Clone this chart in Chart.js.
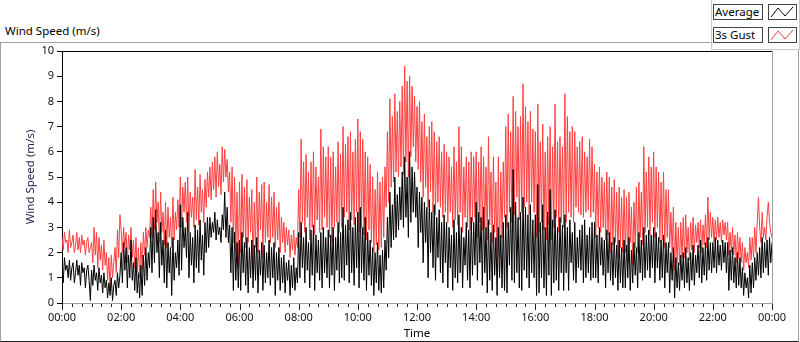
<!DOCTYPE html>
<html>
<head>
<meta charset="utf-8">
<script src="https://cdn.jsdelivr.net/npm/chart.js@4/dist/chart.umd.min.js"></script>
<style>
  body { margin: 0; background: #fff; }
  #wrap { position: relative; width: 800px; height: 342px; overflow: hidden; font-family: "Noto Sans", sans-serif; }
  #frame { position: absolute; left: 0; top: 42px; width: 797px; height: 298px;
           border: 1px solid #a0a0a0; border-bottom-color: #202020; }
  #title { position: absolute; left: 5px; top: 24px; font-size: 11.5px; line-height: 14px; color: #000; }
  #chart { position: absolute; left: 0; top: 0; }
  #legend { position: absolute; left: 711px; top: -1px; width: 87px; height: 49px; background: #fff;
            border: 1px solid #c8c8c8; }
  .lbl { position: absolute; left: 1px; width: 47px; height: 14px; border: 1px solid #444; background: #fff;
         font-size: 11.5px; line-height: 14px; padding-left: 1px; color: #000; }
  .ico { position: absolute; left: 56px; width: 27px; height: 14px; border: 1px solid #444; background: #fff; }
  .ico svg { display: block; }
</style>
</head>
<body>
<div id="wrap">
  <div id="frame"></div>
  <div id="title">Wind Speed (m/s)</div>
  <canvas id="chart" width="800" height="342"></canvas>
  <div id="legend">
    <div class="lbl" style="top:4px">Average</div>
    <div class="ico" style="top:4px"><svg width="27" height="14"><polyline points="2,12 9,3 16,11 24,2" fill="none" stroke="#000" stroke-width="1"/></svg></div>
    <div class="lbl" style="top:27px">3s Gust</div>
    <div class="ico" style="top:27px"><svg width="27" height="14"><polyline points="2,12 9,3 16,11 24,2" fill="none" stroke="#ff3f3f" stroke-width="1"/></svg></div>
  </div>
</div>
<script>
// samples every 2.5 minutes, 00:00 .. 24:00 (24 per hour + final point)
const sampleStepMin = 2.5;

const avgSpeed = [
  1.6, 0.8, 1.8, 1.3, 1.5, 1.0, 1.7, 0.9, 1.4, 1.6, 0.8, 1.2, 1.7, 1.1, 1.5, 0.7, 1.6, 1.2, 1.4, 0.6, 1.3, 1.5, 0.9, 0.1, // 00h
  1.3, 0.7, 1.5, 0.9, 1.2, 0.5, 1.4, 0.8, 1.1, 0.4, 1.2, 0.6, 0.9, 0.2, 0.8, 0.3, 1.0, 0.1, 0.7, 0.9, 0.3, 1.2, 0.6, 1.1, // 01h
  2.0, 0.8, 2.4, 1.3, 2.2, 0.6, 1.9, 1.0, 2.5, 0.9, 1.6, 0.5, 1.8, 0.4, 1.2, 0.2, 1.5, 0.3, 1.9, 0.7, 2.2, 0.9, 2.0, 1.4, // 02h
  3.0, 1.2, 3.4, 1.6, 3.7, 2.0, 2.8, 1.0, 3.2, 1.5, 2.5, 0.8, 2.9, 0.6, 2.4, 1.2, 2.2, 0.3, 2.6, 0.9, 2.0, 1.4, 2.5, 1.1, // 03h
  3.9, 1.3, 3.4, 2.2, 3.0, 1.8, 3.6, 1.0, 2.8, 1.5, 2.6, 0.8, 3.1, 1.4, 2.9, 1.2, 3.3, 1.7, 2.7, 1.1, 3.2, 2.0, 3.4, 2.2, // 04h
  3.4, 2.6, 3.2, 2.8, 3.6, 2.5, 3.3, 2.7, 3.0, 2.4, 3.5, 2.9, 4.4, 2.6, 3.8, 2.4, 3.1, 1.2, 3.0, 0.5, 2.8, 0.9, 2.4, 0.6, // 05h
  2.5, 0.5, 2.8, 1.2, 2.4, 0.7, 2.6, 0.4, 2.2, 1.0, 2.5, 0.6, 2.3, 0.9, 2.6, 0.4, 2.1, 1.1, 2.4, 0.5, 2.3, 0.8, 2.0, 1.0, // 06h
  2.5, 0.7, 2.2, 1.0, 2.4, 0.3, 2.0, 0.9, 2.2, 0.5, 1.8, 0.8, 1.9, 0.4, 1.6, 0.9, 1.7, 0.3, 1.5, 0.6, 1.8, 0.5, 1.4, 0.8, // 07h
  2.8, 1.0, 3.2, 1.4, 2.6, 0.8, 3.0, 1.3, 2.4, 0.6, 2.9, 1.1, 3.1, 0.5, 2.7, 1.2, 2.5, 0.9, 2.8, 0.6, 3.0, 1.2, 2.6, 1.0, // 08h
  2.9, 0.6, 2.7, 1.1, 3.0, 0.5, 2.6, 1.3, 3.2, 0.8, 2.8, 1.0, 3.8, 0.9, 3.1, 1.5, 3.3, 0.8, 3.6, 1.2, 3.0, 0.7, 3.4, 1.4, // 09h
  3.6, 0.6, 3.8, 1.2, 3.0, 0.9, 3.4, 0.5, 2.8, 1.1, 2.5, 0.7, 2.2, 0.3, 2.0, 0.8, 2.4, 0.5, 1.9, 0.4, 2.1, 0.6, 2.5, 1.3, // 10h
  3.4, 1.8, 4.4, 2.2, 3.9, 2.5, 5.0, 2.6, 4.3, 2.9, 4.6, 3.3, 5.2, 3.0, 5.8, 3.4, 5.0, 2.6, 6.0, 3.2, 5.4, 3.6, 5.2, 3.4, // 11h
  4.6, 2.2, 4.4, 2.8, 4.2, 1.6, 4.0, 2.4, 3.8, 1.0, 4.1, 2.0, 3.6, 1.4, 3.9, 0.9, 3.4, 1.8, 3.7, 1.2, 3.2, 0.8, 3.5, 1.6, // 12h
  3.2, 0.6, 3.0, 1.4, 2.7, 0.5, 3.3, 1.0, 2.8, 0.8, 3.5, 1.2, 3.0, 0.6, 2.6, 1.5, 3.2, 0.9, 2.9, 0.6, 3.4, 1.1, 3.2, 1.5, // 13h
  4.0, 0.9, 3.6, 1.6, 3.4, 0.7, 3.8, 1.2, 3.0, 0.4, 3.3, 0.9, 2.8, 0.5, 3.1, 1.1, 2.6, 0.3, 3.0, 1.0, 2.7, 0.6, 3.2, 0.5, // 14h
  3.5, 0.4, 3.2, 1.5, 3.8, 0.9, 5.3, 0.8, 4.0, 1.2, 3.4, 0.6, 3.6, 0.5, 4.2, 1.3, 3.8, 1.0, 3.5, 0.6, 3.9, 1.2, 3.3, 1.0, // 15h
  3.5, 0.3, 4.7, 0.4, 3.2, 1.0, 3.9, 0.6, 3.0, 0.3, 3.6, 1.1, 4.5, 0.3, 3.3, 0.8, 3.7, 0.9, 3.0, 0.5, 3.4, 1.2, 3.1, 0.5, // 16h
  3.5, 1.2, 3.0, 0.5, 3.3, 1.6, 2.8, 0.9, 3.2, 0.8, 2.6, 1.4, 2.9, 1.3, 3.1, 0.8, 3.3, 1.0, 2.7, 1.2, 3.0, 0.9, 3.2, 1.0, // 17h
  3.2, 1.0, 2.7, 0.8, 3.0, 1.5, 2.6, 1.1, 2.5, 0.6, 2.9, 1.2, 2.8, 0.9, 2.4, 0.7, 2.6, 1.0, 2.3, 0.5, 2.5, 0.8, 2.2, 0.6, // 18h
  2.5, 0.6, 2.3, 1.0, 2.6, 0.5, 2.1, 0.8, 2.4, 1.1, 2.2, 0.6, 2.8, 1.2, 2.5, 0.9, 3.0, 1.0, 2.7, 1.3, 2.9, 1.0, 2.7, 1.4, // 19h
  3.0, 0.8, 2.8, 1.4, 2.6, 0.9, 2.5, 1.0, 2.7, 0.6, 2.4, 1.2, 2.4, 0.4, 2.0, 0.9, 2.2, 0.2, 1.8, 0.6, 1.6, 0.5, 1.9, 0.9, // 20h
  2.0, 0.6, 2.2, 0.8, 1.8, 0.5, 2.0, 0.9, 2.3, 0.7, 1.9, 1.2, 2.3, 1.0, 2.5, 0.8, 2.2, 1.1, 2.4, 0.9, 2.6, 1.3, 2.4, 1.2, // 21h
  2.4, 1.4, 2.6, 1.2, 2.5, 1.5, 2.3, 1.3, 2.5, 1.6, 2.4, 1.2, 2.4, 0.5, 2.1, 0.9, 2.2, 0.8, 1.8, 0.6, 2.0, 0.7, 1.8, 0.6, // 22h
  1.4, 0.3, 1.2, 0.6, 1.0, 0.2, 1.5, 0.4, 1.6, 0.6, 1.8, 0.9, 2.0, 1.1, 2.2, 1.0, 2.6, 1.2, 2.4, 1.4, 2.5, 1.1, 2.6, 1.6, // 23h
  2.4
];

const gustSpeed = [
  2.6, 2.1, 2.8, 2.4, 2.5, 2.0, 2.9, 2.2, 2.4, 2.7, 2.0, 2.3, 2.8, 2.1, 2.6, 2.0, 2.7, 2.3, 2.5, 1.9, 2.4, 2.6, 2.0, 2.2, // 00h
  2.4, 1.6, 3.0, 1.9, 2.8, 1.4, 2.6, 1.7, 2.3, 1.3, 2.5, 1.5, 2.0, 0.9, 1.8, 0.6, 1.9, 1.0, 1.6, 2.2, 1.2, 2.9, 1.8, 3.5, // 01h
  2.9, 2.0, 3.0, 2.2, 2.8, 1.6, 2.7, 2.1, 3.0, 1.8, 2.5, 1.4, 2.6, 1.2, 2.2, 1.0, 2.4, 1.3, 2.8, 1.9, 3.0, 2.2, 2.9, 2.6, // 02h
  3.8, 2.6, 4.5, 2.9, 4.8, 3.2, 4.0, 2.4, 4.4, 2.8, 3.6, 2.3, 4.0, 2.2, 3.8, 2.6, 3.4, 2.2, 4.2, 2.5, 3.6, 2.9, 4.1, 3.0, // 03h
  5.0, 3.0, 4.6, 3.6, 4.8, 3.2, 5.0, 2.8, 4.4, 3.4, 4.2, 3.0, 5.3, 3.3, 4.6, 3.1, 5.1, 3.6, 4.5, 3.2, 4.9, 3.8, 5.2, 4.2, // 04h
  5.4, 4.1, 5.6, 4.5, 5.8, 4.2, 6.0, 4.6, 5.5, 4.3, 6.2, 4.8, 6.1, 5.0, 5.7, 4.4, 5.2, 3.2, 5.4, 2.4, 5.0, 2.0, 4.4, 1.4, // 05h
  4.8, 2.0, 5.1, 2.6, 4.6, 2.2, 4.9, 2.4, 4.2, 2.8, 4.5, 1.3, 4.0, 2.2, 5.0, 2.0, 4.4, 2.9, 4.7, 1.8, 4.8, 2.4, 4.0, 2.6, // 06h
  4.7, 2.4, 4.2, 2.6, 4.4, 2.2, 3.8, 2.5, 4.0, 2.0, 3.4, 2.4, 3.2, 2.0, 3.0, 2.3, 2.9, 1.8, 2.7, 2.1, 2.9, 1.9, 2.6, 2.2, // 07h
  4.5, 2.6, 6.5, 3.2, 5.6, 2.8, 5.9, 3.4, 5.2, 2.5, 5.6, 3.0, 6.0, 2.7, 5.4, 3.3, 5.0, 2.8, 6.9, 2.9, 6.2, 3.4, 5.8, 3.0, // 08h
  6.2, 2.6, 5.8, 2.4, 6.0, 3.0, 5.4, 3.2, 6.4, 2.8, 5.9, 3.0, 7.0, 3.4, 6.3, 3.6, 6.6, 2.9, 6.8, 3.3, 6.0, 3.1, 6.5, 3.6, // 09h
  7.3, 2.8, 6.8, 3.0, 6.5, 2.7, 6.0, 2.5, 5.8, 2.9, 5.5, 2.4, 5.0, 2.0, 4.5, 2.3, 5.2, 2.1, 4.8, 2.2, 5.0, 2.6, 5.4, 3.8, // 10h
  6.8, 4.0, 8.1, 4.6, 7.4, 4.8, 8.3, 5.2, 7.6, 5.0, 8.0, 5.4, 8.6, 5.1, 9.4, 5.6, 8.8, 5.0, 9.0, 5.8, 8.6, 6.2, 8.2, 5.6, // 11h
  7.8, 5.3, 8.0, 4.8, 7.2, 4.2, 7.5, 4.6, 6.6, 3.8, 7.0, 4.4, 7.2, 3.6, 6.8, 3.5, 6.4, 4.0, 6.6, 3.8, 6.0, 3.4, 6.3, 3.6, // 12h
  6.0, 3.2, 5.8, 3.6, 5.4, 3.0, 6.2, 3.3, 5.6, 3.1, 7.0, 3.6, 6.2, 2.8, 5.4, 3.4, 5.8, 3.0, 5.6, 2.9, 6.0, 3.2, 5.8, 3.4, // 13h
  6.0, 2.6, 5.6, 3.2, 6.2, 2.9, 5.8, 3.0, 5.4, 2.5, 6.6, 3.1, 5.2, 2.4, 5.8, 2.8, 4.8, 1.4, 5.8, 1.8, 5.2, 2.6, 5.6, 3.4, // 14h
  7.0, 3.0, 7.5, 3.6, 6.8, 3.2, 8.2, 3.5, 7.6, 4.2, 7.0, 3.3, 7.4, 3.6, 8.7, 3.8, 7.8, 4.0, 7.2, 3.5, 7.6, 4.0, 6.9, 3.6, // 15h
  6.8, 2.6, 7.9, 2.8, 6.4, 3.2, 7.1, 2.9, 6.0, 2.5, 6.6, 3.1, 7.0, 2.5, 6.2, 3.0, 7.9, 3.4, 6.4, 2.8, 6.6, 3.2, 6.2, 3.0, // 16h
  8.3, 3.2, 7.4, 3.6, 6.8, 3.4, 7.0, 3.2, 6.8, 3.8, 6.2, 3.6, 6.4, 3.5, 6.6, 3.4, 6.0, 3.6, 5.8, 3.7, 6.5, 3.4, 6.2, 3.6, // 17h
  5.5, 2.6, 5.2, 3.0, 5.4, 2.8, 5.0, 3.0, 4.8, 2.5, 5.2, 2.7, 5.0, 2.0, 4.6, 2.3, 4.9, 2.4, 4.4, 1.8, 4.6, 2.2, 4.2, 2.0, // 18h
  4.5, 2.0, 4.2, 1.6, 4.4, 2.4, 3.8, 1.5, 4.0, 2.2, 4.6, 2.0, 4.8, 2.6, 4.4, 2.3, 6.2, 2.8, 5.2, 3.0, 5.8, 2.7, 5.4, 3.2, // 19h
  6.0, 2.6, 5.4, 3.0, 5.2, 2.4, 4.8, 2.5, 5.2, 2.2, 4.5, 2.6, 4.5, 2.2, 3.6, 2.0, 3.8, 1.3, 3.2, 1.6, 3.0, 1.5, 3.2, 1.8, // 20h
  3.4, 1.8, 3.5, 2.0, 3.0, 1.7, 3.2, 2.1, 3.4, 2.0, 3.1, 2.4, 3.2, 2.2, 3.3, 2.0, 3.1, 2.3, 3.5, 2.2, 4.2, 2.5, 3.6, 2.6, // 21h
  3.4, 2.4, 3.3, 2.5, 3.4, 2.6, 3.2, 2.4, 3.3, 2.7, 3.2, 2.5, 3.2, 1.9, 2.8, 2.0, 3.0, 1.9, 2.7, 1.6, 2.8, 1.8, 2.6, 1.6, // 22h
  2.4, 1.3, 2.2, 1.6, 2.0, 1.4, 2.6, 1.7, 2.6, 1.8, 3.0, 2.0, 3.2, 4.2, 3.0, 2.4, 3.6, 2.6, 3.0, 2.5, 3.4, 4.0, 3.2, 2.8, // 23h
  2.6
];

const timeTickLabels = ['00:00', '02:00', '04:00', '06:00', '08:00', '10:00', '12:00',
                        '14:00', '16:00', '18:00', '20:00', '22:00', '00:00'];
const speedTicks = [0, 1, 2, 3, 4, 5, 6, 7, 8, 9, 10];

const minutes = avgSpeed.map((_, i) => i * sampleStepMin);
const toPoints = arr => arr.map((v, i) => ({ x: minutes[i], y: v }));

const tickFont = { family: 'Noto Sans', size: 11 };
const textColor = '#10101c';

// top/right plot border + major/minor time ticks
const frameLines = {
  id: 'frameLines',
  afterDraw(chart) {
    const { ctx, chartArea: a, scales: { x } } = chart;
    ctx.save();
    ctx.lineWidth = 1;
    ctx.strokeStyle = '#000';
    ctx.beginPath();
    ctx.moveTo(a.left, a.top + 0.5);
    ctx.lineTo(a.right, a.top + 0.5);
    ctx.stroke();
    ctx.strokeStyle = '#a0a0a0';
    ctx.beginPath();
    ctx.moveTo(a.right + 0.5, a.top);
    ctx.lineTo(a.right + 0.5, a.bottom);
    ctx.stroke();
    ctx.strokeStyle = '#222';
    x.ticks.forEach(t => {
      const px = Math.round(x.getPixelForValue(t.value)) + 0.5;
      const len = t.value % 120 === 0 ? 6 : 3;
      ctx.beginPath();
      ctx.moveTo(px, a.bottom + 1);
      ctx.lineTo(px, a.bottom + 1 + len);
      ctx.stroke();
    });
    ctx.restore();
  }
};

new Chart(document.getElementById('chart'), {
  type: 'line',
  data: {
    datasets: [
      { label: 'Average', data: toPoints(avgSpeed), borderColor: '#000', borderWidth: 1,
        pointRadius: 0, tension: 0, fill: false },
      { label: '3s Gust', data: toPoints(gustSpeed), borderColor: '#ff3f3f', borderWidth: 1,
        pointRadius: 0, tension: 0, fill: false }
    ]
  },
  options: {
    responsive: false,
    animation: false,
    events: [],
    layout: { padding: { left: 0, top: 51, right: 28, bottom: 0 } },
    plugins: { legend: { display: false }, tooltip: { enabled: false } },
    scales: {
      x: {
        type: 'linear', min: 0, max: 1440,
        afterFit: s => { s.height = 39; },
        ticks: {
          stepSize: 20, autoSkip: false, maxRotation: 0, padding: 8,
          font: tickFont, color: textColor,
          callback: v => (v % 120 === 0 ? timeTickLabels[v / 120] : '')
        },
        grid: { drawOnChartArea: false, drawTicks: false },
        border: { color: '#a0a0a0' },
        title: { display: true, text: 'Time', font: { family: 'Noto Sans', size: 11.5 },
                 color: '#000', padding: { top: 0, bottom: 1 } }
      },
      y: {
        min: 0, max: 10,
        afterFit: s => { s.width = 62; },
        afterBuildTicks: s => { s.ticks = speedTicks.map(v => ({ value: v })); },
        ticks: { padding: 3, font: tickFont, color: textColor },
        grid: { drawOnChartArea: false, tickLength: 5, color: '#000' },
        border: { color: '#000' },
        title: { display: true, text: 'Wind Speed (m/s)', font: { family: 'Noto Sans', size: 11.5 },
                 color: '#1a2250', padding: { top: 24, bottom: 0 } }
      }
    }
  },
  plugins: [frameLines]
});
</script>
</body>
</html>
